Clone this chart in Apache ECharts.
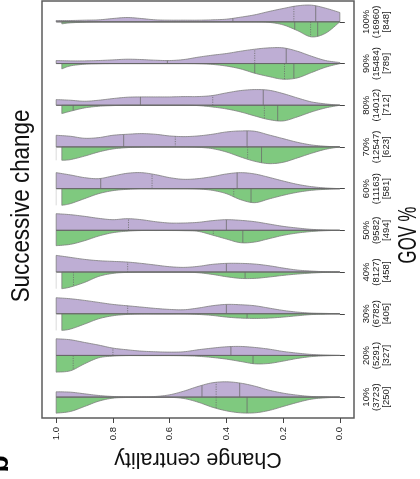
<!DOCTYPE html>
<html><head><meta charset="utf-8">
<script src="https://cdn.jsdelivr.net/npm/echarts@6/dist/echarts.min.js"></script>
<style>html,body{margin:0;padding:0;background:#fff;}#c{width:420px;height:479px;}</style>
</head><body><div id="c"></div>
<script>
// ---- data ----
const categories = ['10%','20%','30%','40%','50%','60%','70%','80%','90%','100%'];
const totalCounts = [3723, 5291, 6782, 8127, 9582, 11163, 12547, 14012, 15484, 16960];
const greenCounts = [250, 327, 405, 458, 494, 581, 623, 712, 789, 848];
const valueTicks = [0, 0.2, 0.4, 0.6, 0.8, 1.0];
// sampling positions of the density profiles (change centrality)
const densityGrid = [1.0,0.95,0.9,0.85,0.8,0.75,0.7,0.65,0.6,0.55,0.5,0.45,0.4,0.35,0.3,0.25,0.2,0.15,0.1,0.05,0.0];
// relative half-widths (purple = upper half, green = lower half)
const purple10  = [0.32,0.3,0.2,0.1,0.04,0.02,0.02,0.04,0.14,0.36,0.64,0.86,0.92,0.84,0.66,0.42,0.24,0.12,0.04,0.02,0];
const purple20  = [1.0,0.94,0.78,0.62,0.44,0.34,0.26,0.22,0.2,0.22,0.34,0.44,0.52,0.54,0.48,0.38,0.24,0.14,0.06,0.02,0];
const purple30  = [0.96,0.9,0.8,0.68,0.56,0.48,0.4,0.32,0.26,0.24,0.34,0.48,0.56,0.54,0.48,0.34,0.2,0.1,0.04,0.02,0];
const purple40  = [1.0,0.88,0.76,0.68,0.64,0.6,0.52,0.42,0.32,0.28,0.34,0.46,0.52,0.52,0.48,0.38,0.24,0.12,0.06,0.02,0];
const purple50  = [1.0,0.94,0.84,0.72,0.64,0.7,0.64,0.52,0.44,0.44,0.48,0.58,0.64,0.6,0.52,0.38,0.24,0.14,0.06,0.02,0];
const purple60  = [0.96,0.82,0.66,0.6,0.76,0.92,0.96,0.84,0.66,0.56,0.6,0.72,0.88,0.96,0.88,0.68,0.46,0.26,0.12,0.04,0];
const purple70  = [0.7,0.64,0.52,0.56,0.7,0.76,0.8,0.76,0.66,0.62,0.66,0.76,0.9,0.96,0.94,0.72,0.5,0.28,0.12,0.04,0];
const purple80  = [0.34,0.3,0.24,0.3,0.4,0.48,0.5,0.5,0.5,0.52,0.52,0.58,0.74,0.88,0.94,0.9,0.7,0.44,0.2,0.08,0];
const purple90  = [0.18,0.16,0.16,0.18,0.22,0.26,0.24,0.2,0.18,0.24,0.38,0.5,0.6,0.74,0.86,0.94,0.94,0.74,0.44,0.18,0.06];
const purple100 = [0.08,0.08,0.1,0.12,0.2,0.26,0.2,0.12,0.1,0.1,0.1,0.12,0.16,0.28,0.42,0.62,0.8,0.96,1.0,0.82,0.56];
const green10  = [0.96,0.86,0.56,0.24,0.06,0.02,0.01,0.01,0.01,0.08,0.3,0.6,0.82,0.94,0.94,0.8,0.56,0.32,0.12,0.04,0];
const green20  = [1.0,0.92,0.5,0.14,0.04,0.01,0.01,0.01,0.01,0.02,0.05,0.12,0.22,0.36,0.5,0.48,0.34,0.18,0.07,0.02,0];
const green30  = [1.0,0.92,0.62,0.3,0.12,0.04,0.01,0.01,0.01,0.01,0.04,0.1,0.2,0.26,0.28,0.26,0.2,0.12,0.05,0.02,0];
const green40  = [1.0,0.9,0.62,0.26,0.08,0.02,0,0,0,0,0.04,0.14,0.28,0.38,0.38,0.3,0.2,0.12,0.06,0.02,0];
const green50  = [0.92,0.84,0.62,0.34,0.14,0.05,0.01,0.01,0.01,0.02,0.06,0.28,0.52,0.74,0.7,0.5,0.3,0.16,0.07,0.02,0];
const green60  = [1.0,0.9,0.6,0.3,0.12,0.04,0,0,0,0,0.02,0.1,0.3,0.66,0.84,0.62,0.4,0.22,0.1,0.04,0];
const green70  = [0.8,0.76,0.55,0.3,0.12,0.04,0.01,0,0,0,0.02,0.1,0.3,0.6,0.86,1.0,0.92,0.66,0.38,0.14,0];
const green80  = [0.5,0.36,0.16,0.06,0.02,0,0,0,0,0,0.02,0.1,0.22,0.4,0.64,0.86,0.94,0.7,0.4,0.16,0];
const green90  = [0.32,0.14,0.04,0.01,0,0,0,0,0,0,0.01,0.05,0.15,0.32,0.58,0.78,0.94,0.86,0.54,0.22,0];
const green100 = [0.12,0.06,0.02,0,0,0,0,0,0,0,0,0,0,0,0,0.03,0.18,0.52,0.9,0.68,0];
const greenMax = [1.0, 1.0, 0.98, 0.98, 1.0, 0.98, 0.98, 0.98, 0.98, 0.98];
const purpleQ1     = [0.353, 0.384, 0.40, 0.40, 0.40, 0.362, 0.327, 0.27, 0.189, 0.085];
const purpleMedian = [0.436, 0.80, 0.748, 0.748, 0.745, 0.662, 0.58, 0.448, 0.30, 0.162];
const purpleQ3     = [0.486, null, null, null, null, 0.843, 0.762, 0.703, 0.608, 0.377];
const greenQ1      = [0.327, 0.306, 0.327, 0.334, 0.342, 0.313, 0.276, 0.219, 0.162, 0.078];
const greenMedian  = [0.436, 0.94, null, 0.939, 0.446, 0.374, 0.325, 0.266, 0.195, 0.103];
const greenQ3      = [null, null, 1.0, 1.0, null, 1.0, 1.0, 0.94, 0.30, 0.159];

const purpleDensity = [purple10,purple20,purple30,purple40,purple50,purple60,purple70,purple80,purple90,purple100];
const greenDensity = [green10,green20,green30,green40,green50,green60,green70,green80,green90,green100];

const FONT = '"Liberation Sans", Arial, Helvetica, sans-serif';
const PURPLE = '#BEAED4', GREEN = '#7FC97F';

function catmull(pts, steps) {
  const out = [], n = pts.length;
  for (let k = 0; k < n - 1; k++) {
    const p0 = pts[Math.max(k - 1, 0)], p1 = pts[k], p2 = pts[k + 1], p3 = pts[Math.min(k + 2, n - 1)];
    for (let s = 0; s < steps; s++) {
      const t = s / steps, t2 = t * t, t3 = t2 * t;
      const f = (a, b, c, d) => 0.5 * (2 * b + (-a + c) * t + (2 * a - 5 * b + 4 * c - d) * t2 + (-a + 3 * b - 3 * c + d) * t3);
      out.push([f(p0[0], p1[0], p2[0], p3[0]), Math.max(0, f(p0[1], p1[1], p2[1], p3[1]))]);
    }
  }
  out.push(pts[n - 1].slice());
  return out;
}
function widthAt(dense, x) {
  if (x <= dense[0][0]) return dense[0][1];
  for (let k = 1; k < dense.length; k++) {
    if (x <= dense[k][0]) {
      const a = dense[k - 1], b = dense[k];
      const t = (x - a[0]) / ((b[0] - a[0]) || 1);
      return a[1] + (b[1] - a[1]) * t;
    }
  }
  return dense[dense.length - 1][1];
}

function renderItem(params, api) {
  const ci = api.value(1), side = api.value(2);
  const prof = side === 0 ? purpleDensity[ci] : greenDensity[ci];
  const top = side === 0 ? 1 : greenMax[ci];
  const band = api.size([0, 1])[1];
  const hw = band * 0.4;
  const sgn = side === 0 ? -1 : 1;
  const yc = api.coord([0, ci])[1];
  const pts = prof.map((d, k) => [api.coord([k === 0 ? top : densityGrid[k], ci])[0], d]);
  const dense = catmull(pts, 8);
  const poly = [[dense[0][0], yc]]
    .concat(dense.map(p => [p[0], yc + sgn * p[1] * hw]))
    .concat([[dense[dense.length - 1][0], yc]]);
  const children = [{
    type: 'polygon', shape: { points: poly },
    style: { fill: side === 0 ? PURPLE : GREEN, stroke: '#7e7e7e', lineWidth: 0.8 }
  }];
  const qs = side === 0
    ? [[purpleQ1[ci], 0], [purpleMedian[ci], 1], [purpleQ3[ci], 0]]
    : [[greenQ1[ci], 0], [greenMedian[ci], 1], [greenQ3[ci], 0]];
  qs.forEach(([q, dotted]) => {
    if (q == null) return;
    const x = api.coord([q, ci])[0];
    const outside = q > top;
    const w = widthAt(dense, x) * hw;
    children.push({
      type: 'line', shape: { x1: x, y1: yc, x2: x, y2: yc + sgn * w },
      style: { stroke: outside ? '#d2d2d2' : '#6c6c6c', lineWidth: 0.8, lineDash: dotted ? [1.2, 1.2] : 'solid' }
    });
  });
  if (side === 1) {
    const xa = api.coord([1, ci])[0], xb = api.coord([0, ci])[0];
    children.push({ type: 'line', shape: { x1: xa, y1: yc, x2: xb, y2: yc }, style: { stroke: '#666', lineWidth: 1 } });
  }
  return { type: 'group', children };
}

const violinData = [];
categories.forEach((c, i) => { violinData.push([0.5, i, 0]); violinData.push([0.5, i, 1]); });

const chart = echarts.init(document.getElementById('c'), null, { renderer: 'canvas' });
chart.setOption({
  animation: false,
  backgroundColor: '#fff',
  textStyle: { fontFamily: FONT },
  grid: { left: 42, right: 66, top: 1, bottom: 61, show: true, borderColor: '#5c5c5c', borderWidth: 1.5, backgroundColor: 'transparent' },
  xAxis: {
    type: 'value', min: -0.05, max: 1.05, inverse: true,
    axisLine: { show: false }, splitLine: { show: false },
    axisTick: { show: true, length: 5, lineStyle: { color: '#444' }, customValues: valueTicks },
    axisLabel: { customValues: valueTicks, rotate: 90, margin: 9, fontSize: 9.5, color: '#1a1a1a', fontFamily: FONT, formatter: v => v.toFixed(1) },
    name: 'Change centrality', nameLocation: 'middle', nameRotate: 180, nameGap: 28,
    nameTextStyle: { fontSize: 21.5, color: '#111', fontFamily: FONT }
  },
  yAxis: {
    type: 'category', data: categories, position: 'right',
    axisLine: { show: false }, splitLine: { show: false },
    axisTick: { show: true, alignWithLabel: true, interval: 0, length: 5, lineStyle: { color: '#444' } },
    axisLabel: {
      interval: 0, hideOverlap: false,
      rotate: 90, margin: 7, fontSize: 9.5, lineHeight: 10, color: '#1a1a1a', fontFamily: FONT,
      formatter: (v, i) => v + '\n(' + totalCounts[i] + ')\n[' + greenCounts[i] + ']'
    }
  },
  graphic: [
    { type: 'text', x: 22, y: 206, rotation: Math.PI / 2, scaleX: 0.86,
      style: { text: 'Successive change', font: '26px ' + FONT, fill: '#111', align: 'center', verticalAlign: 'middle', textAlign: 'center', textVerticalAlign: 'middle' } },
    { type: 'text', x: 409, y: 235, rotation: Math.PI / 2, scaleX: 0.67,
      style: { text: 'GOV %', font: '25px ' + FONT, fill: '#111', align: 'center', verticalAlign: 'middle', textAlign: 'center', textVerticalAlign: 'middle' } },
    { type: 'text', x: 0, y: 464, rotation: Math.PI / 2,
      style: { text: 'b', font: 'bold 28px ' + FONT, fill: '#000', align: 'center', verticalAlign: 'middle', textAlign: 'center', textVerticalAlign: 'middle' } }
  ],
  series: [{
    type: 'custom', renderItem, data: violinData, encode: { x: 0, y: 1 }, clip: false, silent: true
  }]
});
</script></body></html>
